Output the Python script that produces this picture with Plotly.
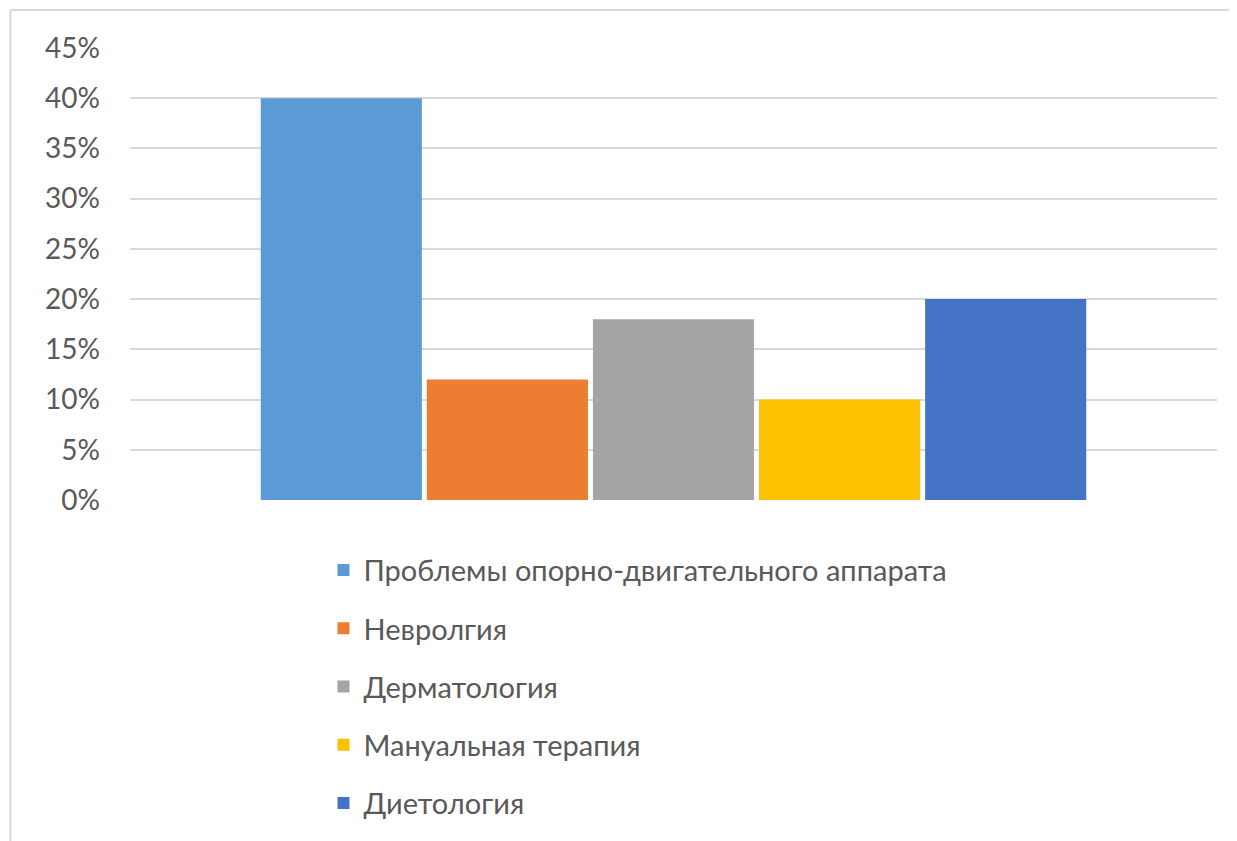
import plotly.graph_objects as go

categories = ["Проблемы опорно-двигательного аппарата", "Невролгия", "Дерматология",
              "Мануальная терапия", "Диетология"]
values = [0.40, 0.12, 0.18, 0.10, 0.20]
colors = ["#5B9BD5", "#ED7D31", "#A5A5A5", "#FFC000", "#4472C4"]
tick_vals = [0, 0.05, 0.10, 0.15, 0.20, 0.25, 0.30, 0.35, 0.40, 0.45]

fig = go.Figure()
for i, (name, v, c) in enumerate(zip(categories, values, colors)):
    fig.add_trace(go.Bar(x=[""], y=[v], name=name, marker_color=c,
                         marker_line_width=0, legendgroup=f"g{i}"))

fig.update_layout(
    width=1229, height=833,
    barmode="group", bargap=0.236, bargroupgap=0.03,
    paper_bgcolor="white", plot_bgcolor="white",
    margin=dict(l=122, r=20, t=40, b=341, autoexpand=False),
    font=dict(family="Lato, Carlito, Calibri, sans-serif", color="#595959", size=29),
    showlegend=True,
    legend=dict(orientation="v", x=0.178, xanchor="left", y=-0.099, yanchor="top",
                tracegroupgap=17.5, font=dict(size=29, color="#595959"),
                itemwidth=30),
    xaxis=dict(showticklabels=False, showgrid=False, zeroline=False, showline=False),
    yaxis=dict(range=[0, 0.45], tickvals=tick_vals, tickformat=".0%",
               showgrid=True, gridcolor="#D9D9D9", gridwidth=1.5,
               zeroline=False, showline=False, ticks="", ticklen=0,
               tickfont=dict(size=28, color="#595959")),
)
fig.update_yaxes(ticklabelstandoff=29)

# chart border (top and left edges visible)
fig.add_shape(type="line", xref="paper", yref="paper",
              x0=-0.110, x1=1.1, y0=1.084, y1=1.084,
              line=dict(color="#D9D9D9", width=2))
fig.add_shape(type="line", xref="paper", yref="paper",
              x0=-0.110, x1=-0.110, y0=1.084, y1=-0.8,
              line=dict(color="#D9D9D9", width=2))

fig.write_html("out.html")
